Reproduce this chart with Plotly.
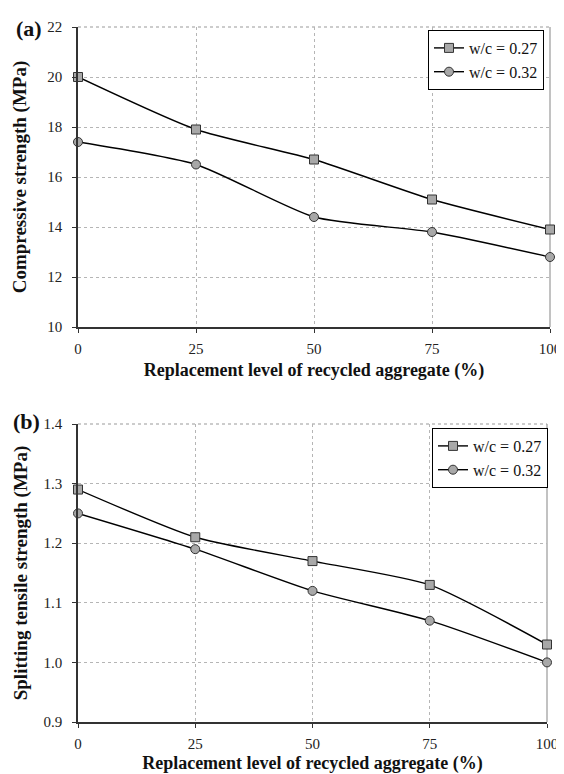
import plotly.graph_objects as go

replacement = [0, 25, 50, 75, 100]
comp_027 = [20.0, 17.9, 16.7, 15.1, 13.9]
comp_032 = [17.4, 16.5, 14.4, 13.8, 12.8]
split_027 = [1.29, 1.21, 1.17, 1.13, 1.03]
split_032 = [1.25, 1.19, 1.12, 1.07, 1.00]
series_names = ["w/c = 0.27", "w/c = 0.32"]
x_ticks = [0, 25, 50, 75, 100]
y1_ticks = [10, 12, 14, 16, 18, 20, 22]
y2_ticks = [0.9, 1.0, 1.1, 1.2, 1.3, 1.4]
y2_labels = ["0.9", "1.0", "1.1", "1.2", "1.3", "1.4"]

FONT = "'Liberation Serif', 'Times New Roman', serif"
MARKER_FILL = "#a8a8a8"

fig = go.Figure()

def add(x, y, name, symbol, xa, ya, legend):
    fig.add_trace(go.Scatter(
        x=x, y=y, name=name, mode="lines+markers",
        line=dict(color="black", width=1.4, shape="spline", smoothing=0.6),
        marker=dict(symbol=symbol, size=9, color=MARKER_FILL,
                    line=dict(color="#333333", width=1)),
        xaxis=xa, yaxis=ya, legend=legend, cliponaxis=False))

add(replacement, comp_027, series_names[0], "square", "x", "y", "legend")
add(replacement, comp_032, series_names[1], "circle", "x", "y", "legend")
add(replacement, split_027, series_names[0], "square", "x2", "y2", "legend2")
add(replacement, split_032, series_names[1], "circle", "x2", "y2", "legend2")

W, H = 564, 774
L, R, T, B = 70, 22, 19, 60
ph = H - T - B
pw = W - L - R
def py(pix):
    return (H - B - pix) / ph
def px(pix):
    return (pix - L) / pw

top_dom = [py(319), 1.0]
bot_dom = [0.0, py(416)]
bot_xdom = [0.0, px(539)]

axis_common = dict(
    showline=True, linecolor="#333333", linewidth=1.5,
    ticks="outside", ticklen=4, tickcolor="#333333",
    showgrid=True, gridcolor="#b5b5b5", griddash="dot", gridwidth=1,
    zeroline=False, tickfont=dict(family=FONT, size=15, color="#222222"),
    automargin=False,
)
xaxis_extra = dict(ticklabelstandoff=3)
yaxis_extra = dict(ticklabelstandoff=7)
title_font = dict(family=FONT, size=18, color="#111111")
ytitle_font = dict(family=FONT, size=19, color="#111111")
xtitle = "<b>Replacement level of recycled aggregate (%)</b>"

fig.update_layout(
    width=W, height=H,
    margin=dict(l=L, r=R, t=T, b=B),
    paper_bgcolor="white", plot_bgcolor="white",
    font=dict(family=FONT, color="#111111"),
    xaxis=dict(domain=[0, 1], anchor="y", range=[0, 100], tickvals=x_ticks,
               title=dict(text=xtitle, font=title_font, standoff=8),
               **axis_common, **xaxis_extra),
    yaxis=dict(domain=top_dom, anchor="x", range=[10, 22], tickvals=y1_ticks,
               title=dict(text="<b>Compressive strength (MPa)</b>",
                          font=ytitle_font, standoff=16),
               **axis_common, **yaxis_extra),
    xaxis2=dict(domain=bot_xdom, anchor="y2", range=[0, 100], tickvals=x_ticks,
                title=dict(text=xtitle, font=title_font, standoff=6),
                **axis_common, **xaxis_extra),
    yaxis2=dict(domain=bot_dom, anchor="x2", range=[0.9, 1.4], tickvals=y2_ticks,
                ticktext=y2_labels,
                title=dict(text="<b>Splitting tensile strength (MPa)</b>",
                           font=ytitle_font, standoff=11),
                **axis_common, **yaxis_extra),
    legend=dict(x=px(420), y=py(22), xanchor="left", yanchor="top",
                bordercolor="black", borderwidth=1, bgcolor="white",
                font=dict(family=FONT, size=16, color="#111111"),
                itemwidth=30, tracegroupgap=0),
    legend2=dict(x=px(424), y=py(420), xanchor="left", yanchor="top",
                 bordercolor="black", borderwidth=1, bgcolor="white",
                 font=dict(family=FONT, size=16, color="#111111"),
                 itemwidth=30, tracegroupgap=0),
    showlegend=True,
)

# dotted top and grey right frame lines
for xr, yr in [("x domain", "y domain"), ("x2 domain", "y2 domain")]:
    fig.add_shape(type="line", xref=xr, yref=yr, x0=0, x1=1, y0=1, y1=1,
                  line=dict(color="#999999", width=1.2, dash="dot"), layer="below")
    fig.add_shape(type="line", xref=xr, yref=yr, x0=1, x1=1, y0=0, y1=1,
                  line=dict(color="#999999", width=1.2), layer="below")

fig.add_annotation(text="<b>(a)</b>", xref="paper", yref="paper",
                   x=px(6), y=py(20), xanchor="left", yanchor="middle",
                   showarrow=False, font=dict(family=FONT, size=22, color="#111111"))
fig.add_annotation(text="<b>(b)</b>", xref="paper", yref="paper",
                   x=px(3), y=py(413), xanchor="left", yanchor="middle",
                   showarrow=False, font=dict(family=FONT, size=22, color="#111111"))

fig.write_html("out.html")
